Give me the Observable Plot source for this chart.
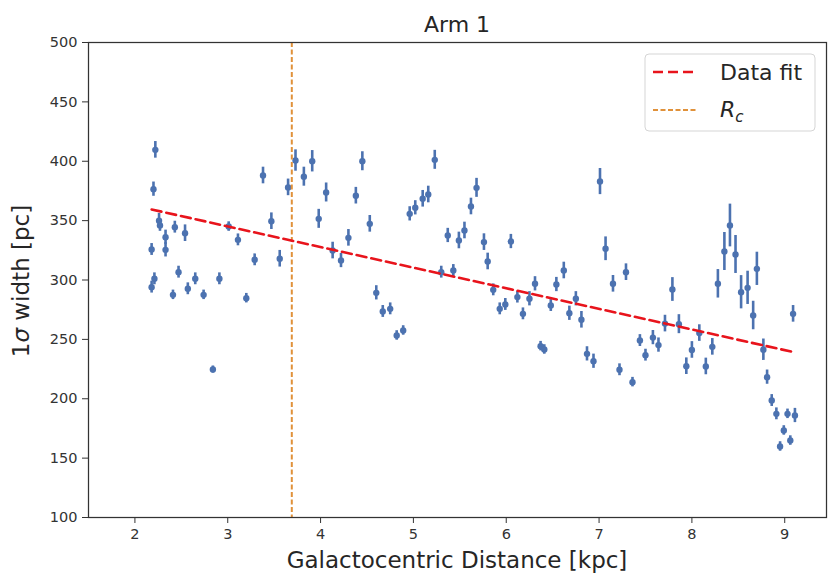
<!DOCTYPE html>
<html><head><meta charset="utf-8">
<script src="https://cdn.jsdelivr.net/npm/d3@7"></script>
<script src="https://cdn.jsdelivr.net/npm/@observablehq/plot@0.6"></script>
<style>
body{margin:0;background:#fff}
#chart svg{font-family:"DejaVu Sans",sans-serif;overflow:visible}
</style>
</head><body><div id="chart"></div>
<script>
// Galactocentric distance [kpc]
const distance = [2.18,2.18,2.20,2.21,2.22,2.26,2.27,2.33,2.33,2.41,2.43,2.47,2.54,2.57,2.65,2.74,2.84,2.91,3.01,3.11,
  3.20,3.29,3.38,3.47,3.56,3.65,3.73,3.82,3.91,3.98,4.06,4.13,4.22,4.30,4.38,4.45,4.53,4.60,4.67,4.75,
  4.82,4.89,4.96,5.02,5.10,5.16,5.23,5.30,5.37,5.43,5.49,5.55,5.62,5.68,5.76,5.80,5.86,5.93,5.99,6.05,
  6.12,6.18,6.25,6.31,6.37,6.41,6.48,6.54,6.62,6.68,6.75,6.81,6.87,6.94,7.01,7.07,7.15,7.22,7.29,7.36,
  7.44,7.50,7.58,7.64,7.71,7.79,7.86,7.94,8.00,8.08,8.15,8.22,8.28,8.35,8.41,8.47,8.53,8.60,8.66,8.70,
  8.77,8.81,8.86,8.91,8.95,8.99,9.03,9.06,9.09,9.11];
// 1 sigma width [pc]
const widthPc = [294,325.7,376.5,301,409.6,350,346,336,325.4,287.5,344.5,306.6,339.4,292.6,301,287.5,224.6,301,345,333.8,
  284.7,317,388,349.5,317.9,378,400.6,387,400,351.5,373.7,324.8,316.4,335.5,371,400,347.3,289.2,273.5,275.7,
  253.3,257.5,355.7,360.8,368.4,372,401.2,306.6,337.5,308,333.3,341.7,361.9,377.6,331.9,315.6,291.7,275.7,279.4,332.4,
  285.6,271.5,284.2,296.8,244.3,241.5,278.5,296.2,308,272,284.2,266.5,237.8,231.6,382.9,326.3,296.8,224.4,306.6,214,
  249,236.7,251.5,245.2,263.3,292,262.8,227.4,241.1,255.3,227.2,243.7,296.8,324,345.9,321.5,289.7,293.4,270.1,309.4,
  241.3,218.2,198.5,187.3,159.8,173.3,187.3,164.8,271.5,185.9];
// error half-length [pc]
const errPc = [5,5,6,5,7,6,5,6,6,4,5,5,7,5,5,4,3,5,4,5,
  4,5,7,7,7,7,9,8,9,8,8,7,6,7,7,8,7,6,5,5,
  4,4,6,6,7,7,8,5,6,5,7,7,7,8,7,7,5,5,5,6,
  5,5,6,6,4,4,5,6,7,6,6,7,6,6,11,10,7,5,7,4,
  5,5,6,6,7,10,8,7,7,7,7,7,12,16,18,16,14,14,12,14,
  9,6,5,5,4,4,4,4,7,6];
// Data fit line endpoints
const fitX = [2.18, 9.10];
const fitY = [359.4, 239.2];
// R_c
const rcX = [3.69];
const xTicks = [2,3,4,5,6,7,8,9];
const yTicks = [100,150,200,250,300,350,400,450,500];

const pts = distance.map((x,i)=>({x, y: widthPc[i], e: errPc[i]}));
const fit = fitX.map((x,i)=>({x, y: fitY[i]}));

const blue = "#4c72b0", red = "#e8141c", orange = "#e0913a";

const plot = Plot.plot({
  width: 837, height: 579,
  marginLeft: 88, marginRight: 11, marginTop: 42, marginBottom: 62,
  style: {fontFamily: "DejaVu Sans", fontSize: "14.5px", color: "#333", background: "#fff"},
  x: {domain: [1.5, 9.45], ticks: xTicks, tickFormat: d => d, tickSize: 6, tickPadding: 5, label: null},
  y: {domain: [100, 500], ticks: yTicks, tickFormat: d => d, tickSize: 6, tickPadding: 5, label: null},
  marks: [
    Plot.ruleX(pts, {x: "x", y1: d => d.y - d.e, y2: d => d.y + d.e, stroke: blue, strokeWidth: 2.6}),
    Plot.dot(pts, {x: "x", y: "y", r: 3.2, fill: blue, stroke: null}),
    Plot.ruleX(rcX, {stroke: orange, strokeWidth: 2, strokeDasharray: "5,2.5"}),
    Plot.line(fit, {x: "x", y: "y", stroke: red, strokeWidth: 2.6, strokeDasharray: "10,5"}),
    Plot.frame({stroke: "#333", strokeWidth: 1.25})
  ]
});
document.getElementById("chart").appendChild(plot);

const svg = d3.select(plot);
// Title
svg.append("text").attr("x", 457).attr("y", 31.5).attr("text-anchor", "middle")
  .attr("font-size", 22).attr("fill", "#262626").text("Arm 1");
// X label
svg.append("text").attr("x", 457).attr("y", 568).attr("text-anchor", "middle")
  .attr("font-size", 23).attr("fill", "#262626").text("Galactocentric Distance [kpc]");
// Y label
const yl = svg.append("text").attr("transform", "translate(29,281) rotate(-90)")
  .attr("text-anchor", "middle").attr("font-size", 23).attr("fill", "#262626");
yl.append("tspan").text("1");
yl.append("tspan").attr("font-style", "italic").text("σ");
yl.append("tspan").text(" width [pc]");

// Legend
const lg = svg.append("g").attr("text-anchor", "start");
lg.append("rect").attr("x", 645).attr("y", 54).attr("width", 170).attr("height", 77)
  .attr("rx", 4).attr("fill", "#fff").attr("fill-opacity", 0.8).attr("stroke", "#d5d5d5");
lg.append("line").attr("x1", 653).attr("x2", 698).attr("y1", 72).attr("y2", 72)
  .attr("stroke", red).attr("stroke-width", 2.6).attr("stroke-dasharray", "10,5");
lg.append("text").attr("x", 720).attr("y", 79.5).attr("text-anchor", "start")
  .attr("font-size", 22).attr("fill", "#262626").text("Data fit");
lg.append("line").attr("x1", 653).attr("x2", 698).attr("y1", 110).attr("y2", 110)
  .attr("stroke", orange).attr("stroke-width", 2).attr("stroke-dasharray", "5,2.5");
const rt = lg.append("text").attr("x", 720).attr("y", 117).attr("text-anchor", "start")
  .attr("font-size", 22).attr("fill", "#262626");
rt.append("tspan").attr("font-style", "italic").text("R");
rt.append("tspan").attr("font-style", "italic").attr("font-size", 15).attr("dy", 5).text("c");
</script>
</body></html>
